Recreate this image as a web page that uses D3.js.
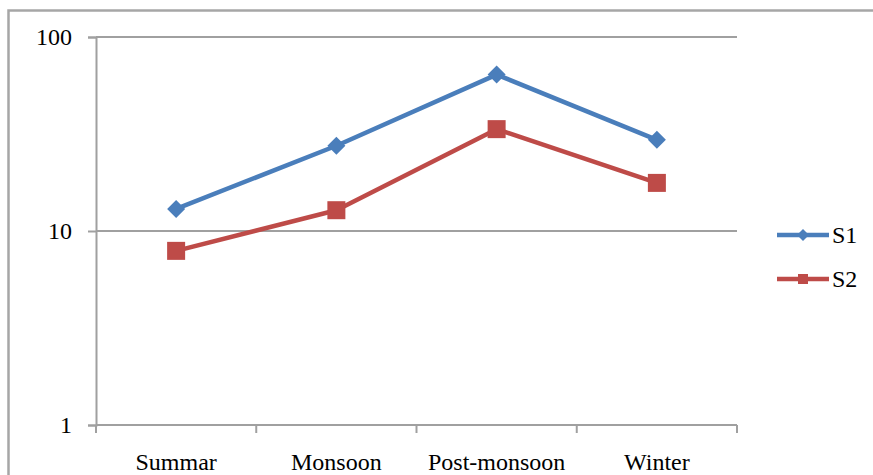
<!DOCTYPE html>
<html>
<head>
<meta charset="utf-8">
<script src="https://cdn.jsdelivr.net/npm/d3@7"></script>
<style>
  html, body { margin: 0; padding: 0; background: #fff; }
  svg { display: block; }
</style>
</head>
<body>
<script>
const categories = ["Summar", "Monsoon", "Post-monsoon", "Winter"];
const s1Values = [13, 27.5, 64, 29.5];
const s2Values = [7.9, 12.8, 33.5, 17.7];
const seriesNames = ["S1", "S2"];
const yTickValues = [1, 10, 100];
const yTickLabels = ["1", "10", "100"];

const W = 873, H = 475;
const plot = { left: 96, right: 737, top: 37, bottom: 425 };
const FONT = '"Liberation Serif"';
const colors = { S1: "#4a7ebb", S2: "#be4b48" };
const gray = "#a0a0a0";

const svg = d3.select("body").append("svg").attr("width", W).attr("height", H);

// outer chart border (extends past right/bottom edges)
svg.append("rect")
  .attr("x", 8.5).attr("y", 10.5)
  .attr("width", 1000).attr("height", 1000)
  .attr("fill", "none").attr("stroke", "#a6a6a6").attr("stroke-width", 2.5);

const x = d3.scaleBand().domain(categories).range([plot.left, plot.right]);
const y = d3.scaleLog().domain([1, 100]).range([plot.bottom, plot.top]);

// gridlines (major)
svg.append("g").selectAll("line")
  .data(yTickValues.filter(v => v !== 1))
  .join("line")
  .attr("x1", plot.left).attr("x2", plot.right)
  .attr("y1", d => y(d)).attr("y2", d => y(d))
  .attr("stroke", gray).attr("stroke-width", 2);

// y axis
const yAxis = d3.axisLeft(y).tickValues(yTickValues)
  .tickFormat((d, i) => yTickLabels[i]).tickSize(8).tickPadding(16);
const gy = svg.append("g").attr("transform", `translate(${plot.left},0)`).call(yAxis);
gy.select(".domain").attr("stroke", gray).attr("stroke-width", 2);
gy.selectAll(".tick line").attr("stroke", gray).attr("stroke-width", 2);
gy.selectAll(".tick text")
  .style("font-family", FONT).style("font-size", "24px").attr("fill", "#000")
  .attr("dy", "0.32em");

// x axis
const gx = svg.append("g").attr("transform", `translate(0,${plot.bottom})`);
gx.append("line")
  .attr("x1", plot.left).attr("x2", plot.right)
  .attr("stroke", gray).attr("stroke-width", 2);
const boundaries = categories.map(c => x(c)).concat([x(categories[categories.length - 1]) + x.bandwidth()]);
gx.selectAll("line.tk").data(boundaries).join("line")
  .attr("class", "tk")
  .attr("x1", d => d).attr("x2", d => d)
  .attr("y1", 0).attr("y2", 8)
  .attr("stroke", gray).attr("stroke-width", 2);
gx.selectAll("text").data(categories).join("text")
  .attr("x", d => x(d) + x.bandwidth() / 2)
  .attr("y", 45)
  .attr("text-anchor", "middle")
  .style("font-family", FONT).style("font-size", "24px").attr("fill", "#000")
  .text(d => d);

const cx = c => x(c) + x.bandwidth() / 2;
const line = d3.line().x(d => cx(d.cat)).y(d => y(d.v));

const series = [
  { name: seriesNames[0], values: s1Values, marker: "diamond" },
  { name: seriesNames[1], values: s2Values, marker: "square" }
];

function drawMarker(g, type, px, py, size, color) {
  if (type === "diamond") {
    const r = size / 2;
    g.append("path")
      .attr("d", `M${px},${py - r}L${px + r},${py}L${px},${py + r}L${px - r},${py}Z`)
      .attr("fill", color);
  } else {
    g.append("rect")
      .attr("x", px - size / 2).attr("y", py - size / 2)
      .attr("width", size).attr("height", size)
      .attr("fill", color);
  }
}

series.forEach(s => {
  const pts = categories.map((c, i) => ({ cat: c, v: s.values[i] }));
  const g = svg.append("g");
  g.append("path").datum(pts)
    .attr("d", line).attr("fill", "none")
    .attr("stroke", colors[s.name]).attr("stroke-width", 4.5)
    .attr("stroke-linejoin", "round");
  pts.forEach(p => drawMarker(g, s.marker, cx(p.cat), y(p.v), 18, colors[s.name]));
});

// legend
const legend = svg.append("g");
series.forEach((s, i) => {
  const ly = 235 + i * 44;
  legend.append("line")
    .attr("x1", 777).attr("x2", 829).attr("y1", ly).attr("y2", ly)
    .attr("stroke", colors[s.name]).attr("stroke-width", 4.5);
  drawMarker(legend, s.marker, 803, ly, s.marker === "diamond" ? 12 : 10, colors[s.name]);
  legend.append("text")
    .attr("x", 832).attr("y", ly).attr("dy", "0.32em")
    .style("font-family", FONT).style("font-size", "24px").attr("fill", "#000")
    .text(s.name);
});
</script>
</body>
</html>
